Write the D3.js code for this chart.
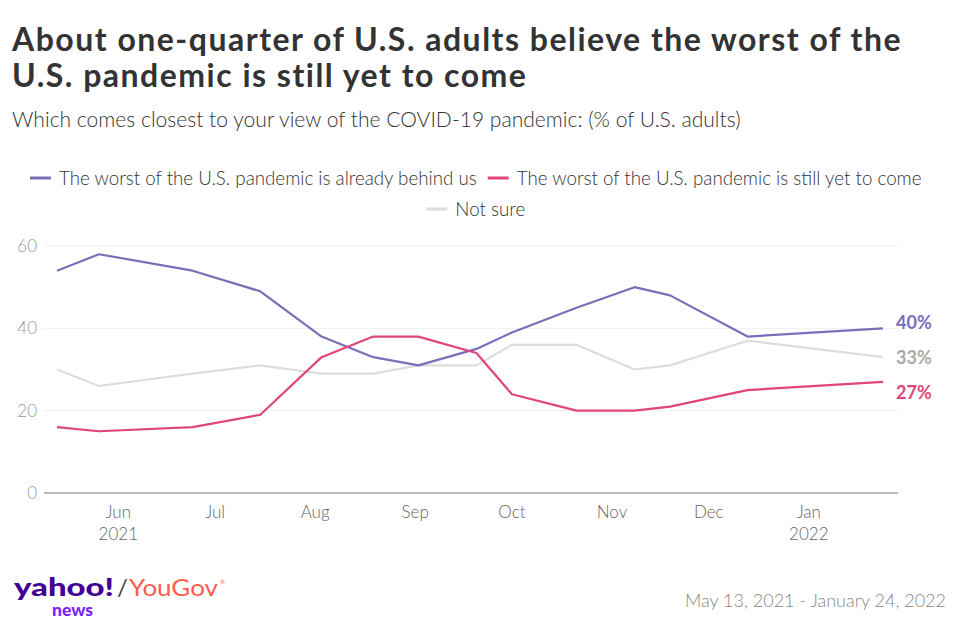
<!DOCTYPE html>
<html><head><meta charset="utf-8">
<script src="https://cdn.jsdelivr.net/npm/d3@7"></script>
<style>
body{margin:0;background:#fff;}
svg{display:block;font-family:Lato,"Open Sans",sans-serif;}
</style></head>
<body>
<svg id="chart" width="960" height="627"></svg>
<script>
// ---- data ----
const dates = ["2021-05-13","2021-05-26","2021-06-24","2021-07-15","2021-08-03","2021-08-19","2021-09-02","2021-09-20","2021-10-01","2021-10-21","2021-11-08","2021-11-19","2021-12-13","2022-01-24"];
const behindUs = [54,58,54,49,38,33,31,35,39,45,50,48,38,40];
const yetToCome = [16,15,16,19,33,38,38,34,24,20,20,21,25,27];
const notSure  = [30,26,29,31,29,29,31,31,36,36,30,31,37,33];
const seriesNames = ["The worst of the U.S. pandemic is already behind us","The worst of the U.S. pandemic is still yet to come","Not sure"];
const yTicks = [0,20,40,60];
const monthTicks = ["2021-06-01","2021-07-01","2021-08-01","2021-09-01","2021-10-01","2021-11-01","2021-12-01","2022-01-01"];
const titleLines = ["About one-quarter of U.S. adults believe the worst of the","U.S. pandemic is still yet to come"];
const subtitle = "Which comes closest to your view of the COVID-19 pandemic: (% of U.S. adults)";
const footer = "May 13, 2021 - January 24, 2022";

const colors = ["#7b6db8","#e0457b","#dddddd"];

const parse = d3.timeParse("%Y-%m-%d");
const svg = d3.select("#chart");

function fit(sel, target, minS, maxS){
  const w = sel.node().getComputedTextLength();
  let fs = parseFloat(sel.attr("font-size"));
  let nfs = Math.max(minS, Math.min(maxS, fs*target/w));
  sel.attr("font-size", nfs);
}

// ---- titles ----
const tsel = [];
titleLines.forEach((t,i)=>{
  const s = svg.append("text").attr("x",12).attr("y",51+i*36).attr("font-size",32)
    .attr("font-weight",700).attr("fill","#333").text(t);
  tsel.push(s);
});
{
  const w = tsel[0].node().getComputedTextLength();
  const ls = Math.max(0, Math.min(1.8, (890 - w) / titleLines[0].length));
  tsel.forEach(s=>s.attr("letter-spacing", ls));
}

const sub = svg.append("text").attr("x",12).attr("y",127).attr("font-size",19)
  .attr("font-weight",300).attr("fill","#333").text(subtitle);
fit(sub, 729, 16, 22);

// ---- scales ----
const x = d3.scaleTime().domain([parse(dates[0]), parse(dates[dates.length-1])]).range([57,883]);
const y = d3.scaleLinear().domain([0,60]).range([493,246]);

// gridlines
svg.append("g").selectAll("line").data(yTicks.filter(d=>d>0)).join("line")
  .attr("x1",44).attr("x2",898).attr("y1",d=>y(d)).attr("y2",d=>y(d))
  .attr("stroke","#eeeeee").attr("stroke-width",1);
svg.append("line").attr("x1",44).attr("x2",898).attr("y1",y(0)).attr("y2",y(0))
  .attr("stroke","#777").attr("stroke-width",1.2);

// y axis labels
svg.append("g").selectAll("text").data(yTicks).join("text")
  .attr("x",37).attr("y",d=>y(d)).attr("dy","0.35em").attr("text-anchor","end")
  .attr("font-size",17).attr("font-weight",300).attr("fill","#999").text(d=>d);

// x axis labels
const xa = svg.append("g");
monthTicks.forEach(m=>{
  const dt = parse(m);
  xa.append("text").attr("x",x(dt)).attr("y",518).attr("text-anchor","middle")
    .attr("font-size",17).attr("font-weight",300).attr("fill","#666").text(d3.timeFormat("%b")(dt));
  if(dt.getMonth()===0 || m===monthTicks[0]){
    xa.append("text").attr("x",x(dt)).attr("y",540).attr("text-anchor","middle")
      .attr("font-size",17).attr("font-weight",300).attr("fill","#666").text(d3.timeFormat("%Y")(dt));
  }
});

// ---- lines ----
const series = [behindUs, yetToCome, notSure];
const line = d3.line().x((d,i)=>x(parse(dates[i]))).y(d=>y(d));
[2,0,1].forEach(k=>{
  svg.append("path").datum(series[k]).attr("d",line).attr("fill","none")
    .attr("stroke",colors[k]).attr("stroke-width",2.2).attr("stroke-linejoin","round");
});

// ---- end labels with dodge ----
const ends = series.map((s,k)=>({k, v:s[s.length-1], y:y(s[s.length-1])}));
ends.sort((a,b)=>a.y-b.y);
const gap = 35;
const mean = d3.mean(ends,d=>d.y)+2;
ends.forEach((e,i)=>{ e.ly = mean + (i-(ends.length-1)/2)*gap; });
const labCol = {0:"#7b6db8",1:"#e0457b",2:"#aaaaaa"};
ends.forEach(e=>{
  svg.append("text").attr("x",896).attr("y",e.ly).attr("dy","0.35em")
    .attr("font-size",18).attr("font-weight",700).attr("fill",labCol[e.k]).text(e.v+"%");
});

// ---- legend ----
const lg = svg.append("g");
function legendItem(g, k, xPos, yPos){
  g.append("line").attr("x1",xPos).attr("x2",xPos+21).attr("y1",yPos).attr("y2",yPos)
    .attr("stroke",colors[k]).attr("stroke-width",3);
  const t = g.append("text").attr("x",xPos+29).attr("y",yPos).attr("dy","0.35em")
    .attr("font-size",17).attr("font-weight",300).attr("fill","#333").text(seriesNames[k]);
  return t;
}
const r1a = legendItem(lg,0,30,178);
fit(r1a, 418, 14, 20);
const fsL = r1a.attr("font-size");
const w1 = r1a.node().getComputedTextLength();
const x2 = 60 + w1 + 10;
const r1b = legendItem(lg,1,x2,178);
r1b.attr("font-size",fsL);
const r2 = legendItem(lg,2,0,209);
r2.attr("font-size",fsL);
const w3 = r2.node().getComputedTextLength();
const totalRow1 = (x2+29+r1b.node().getComputedTextLength()) - 30;
const center = 30 + totalRow1/2;
const r2w = 29 + w3;
r2.attr("x", center - r2w/2 + 29);
lg.selectAll("line").filter((d,i)=>i===2).attr("x1",center - r2w/2).attr("x2",center - r2w/2 + 21);

// ---- footer ----
svg.append("text").attr("x",946).attr("y",607).attr("text-anchor","end")
  .attr("font-size",18).attr("font-weight",300).attr("fill","#888").text(footer);

// logo
const logo = svg.append("g");
logo.append("text").attr("x",14).attr("y",596).attr("font-size",25).attr("font-weight",900)
  .attr("fill","#410093").attr("textLength",100).attr("lengthAdjust","spacingAndGlyphs").text("yahoo!");
logo.append("text").attr("x",52).attr("y",616).attr("font-size",16).attr("font-weight",900)
  .attr("fill","#7e1fff").attr("textLength",41).attr("lengthAdjust","spacingAndGlyphs").text("news");
logo.append("text").attr("x",117).attr("y",596).attr("font-size",24).attr("font-weight",400)
  .attr("fill","#444").text("/");
logo.append("text").attr("x",129).attr("y",596).attr("font-size",23).attr("font-weight",400)
  .attr("fill","#ff5c4d").attr("textLength",89).attr("lengthAdjust","spacingAndGlyphs").text("YouGov");
logo.append("text").attr("x",220).attr("y",584).attr("font-size",6)
  .attr("fill","#ff5c4d").text("®");
</script>
</body></html>
